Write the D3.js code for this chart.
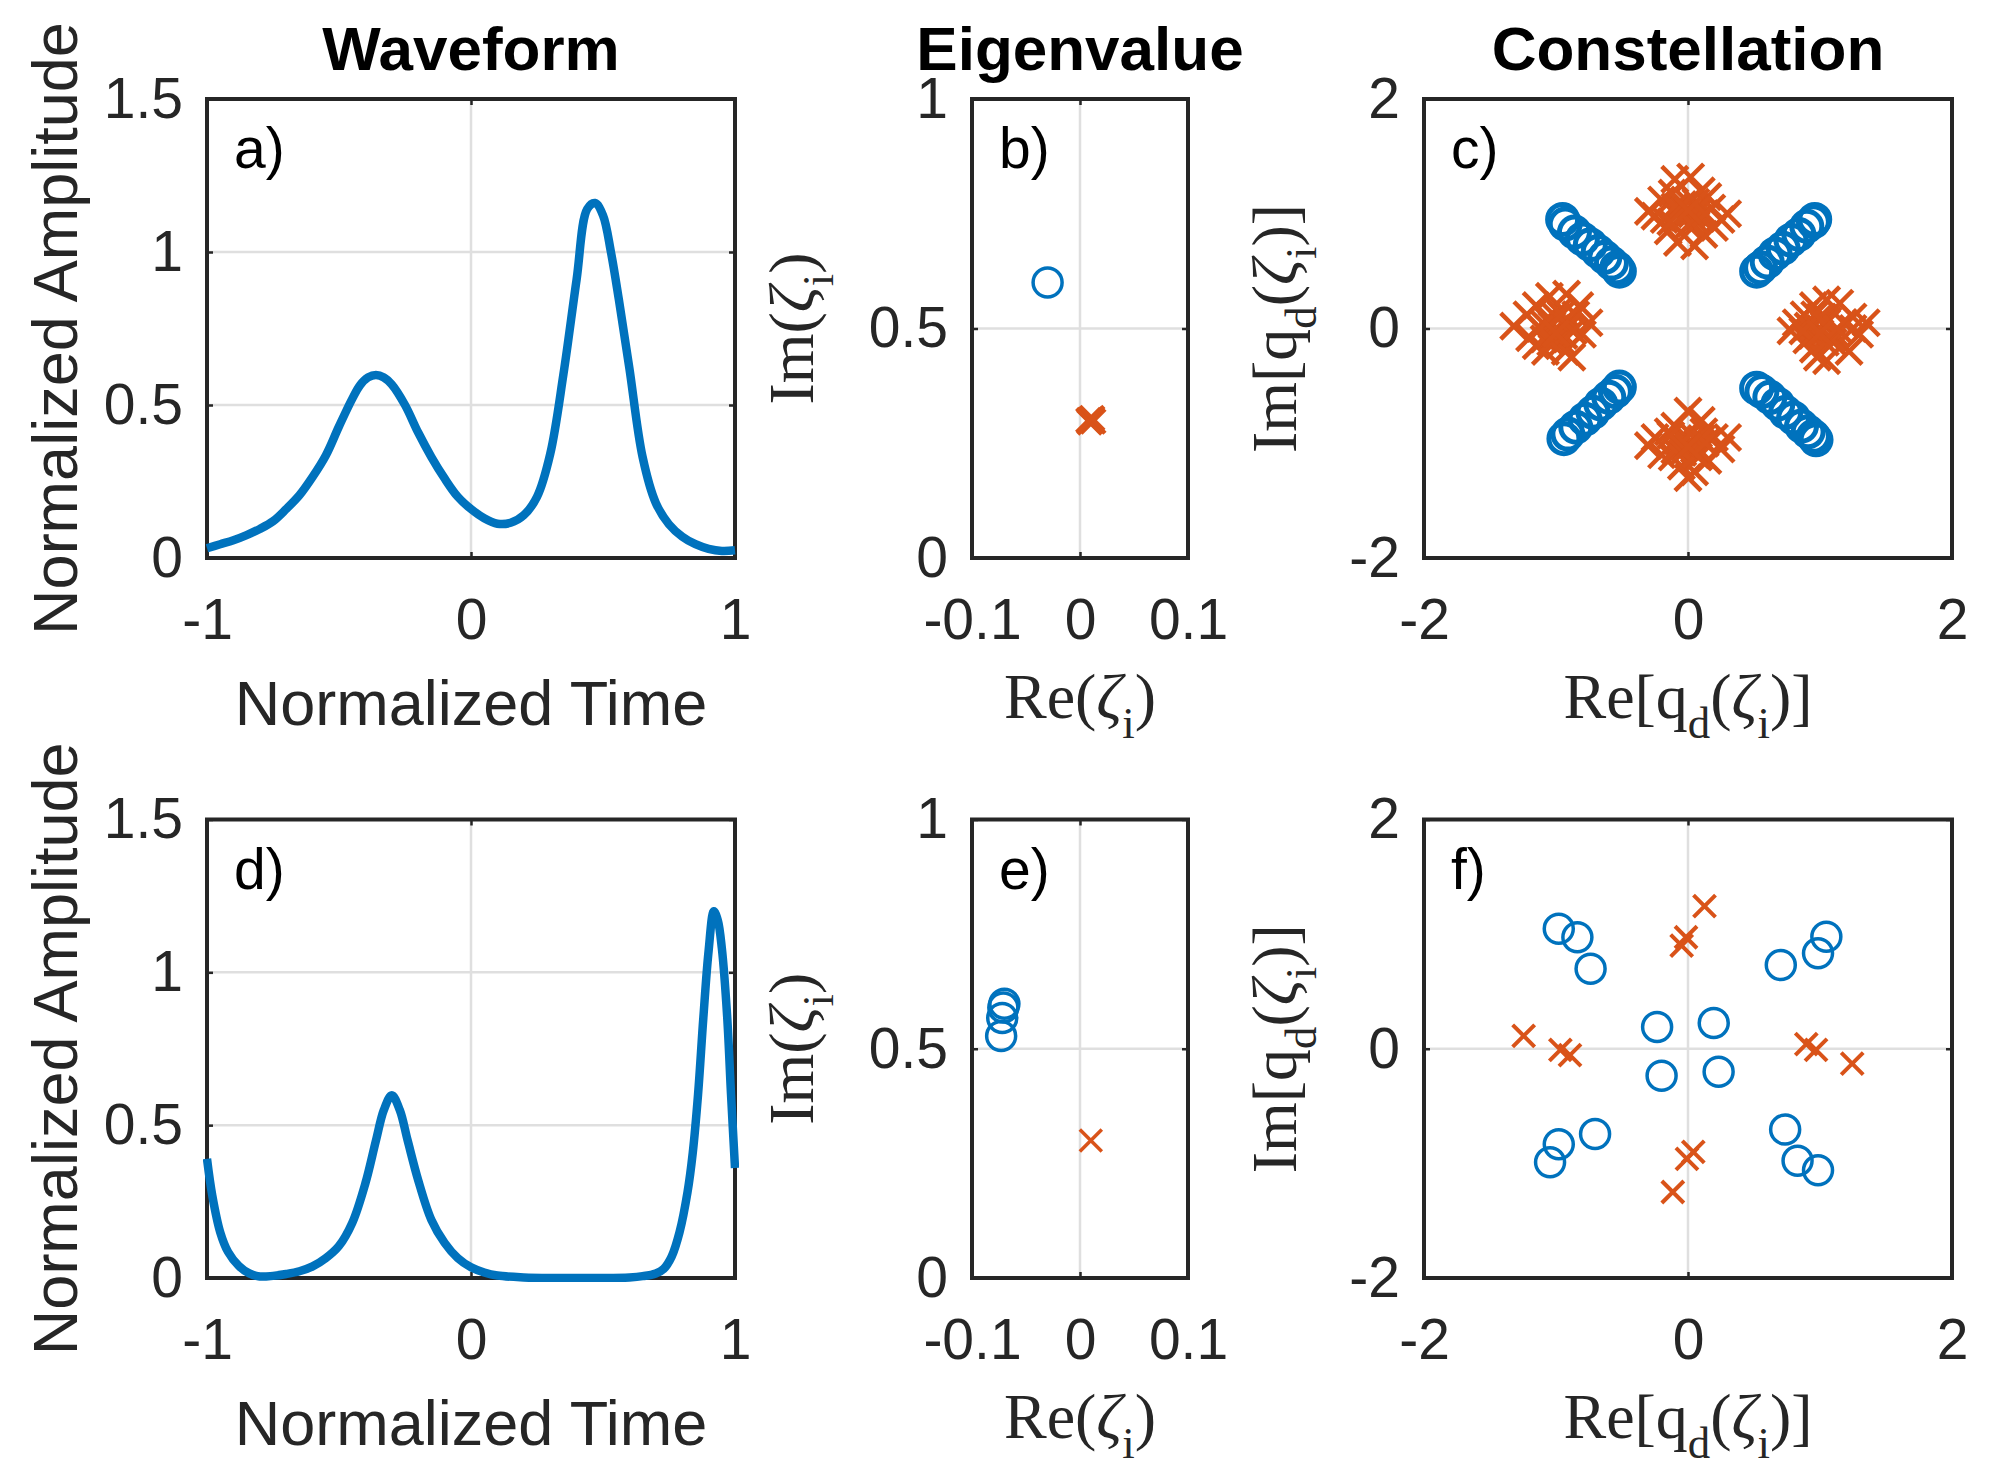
<!DOCTYPE html>
<html><head><meta charset="utf-8">
<script src="https://cdn.jsdelivr.net/npm/d3@7"></script>
<style>body{margin:0;background:#fff}</style>
</head><body>
<svg id="chart" width="2006" height="1478"></svg>
<script>
// ---------------- DATA ----------------
// Waveform a)
const waveA_t = [-1.0,-0.95,-0.9,-0.85,-0.8,-0.75,-0.7,-0.65,-0.6,-0.55,-0.5,-0.45,-0.42,-0.39,-0.36,-0.33,-0.3,-0.25,-0.2,-0.15,-0.1,-0.05,0,0.05,0.1,0.15,0.2,0.25,0.3,0.35,0.4,0.44,0.47,0.5,0.53,0.56,0.6,0.65,0.7,0.75,0.8,0.85,0.9,0.95,1.0];
const waveA_q = [0.032,0.045,0.058,0.075,0.095,0.12,0.16,0.205,0.265,0.335,0.43,0.52,0.565,0.59,0.598,0.59,0.567,0.5,0.41,0.33,0.26,0.2,0.16,0.13,0.112,0.115,0.14,0.2,0.34,0.6,0.91,1.14,1.16,1.12,1.0,0.845,0.62,0.33,0.18,0.11,0.07,0.045,0.03,0.023,0.025];
// Waveform d)
const waveD_t = [-1.0,-0.98,-0.95,-0.92,-0.88,-0.84,-0.8,-0.75,-0.7,-0.65,-0.6,-0.55,-0.5,-0.45,-0.4,-0.36,-0.33,-0.3,-0.27,-0.24,-0.2,-0.15,-0.1,-0.05,0,0.05,0.1,0.2,0.3,0.4,0.5,0.6,0.65,0.7,0.73,0.76,0.79,0.82,0.84,0.86,0.88,0.9,0.92,0.935,0.95,0.97,0.985,1.0];
const waveD_q = [0.39,0.27,0.15,0.085,0.04,0.015,0.005,0.007,0.013,0.022,0.038,0.065,0.105,0.18,0.31,0.45,0.55,0.598,0.55,0.45,0.32,0.19,0.115,0.065,0.035,0.018,0.008,0.002,0,0,0,0.002,0.006,0.015,0.03,0.07,0.15,0.28,0.41,0.6,0.85,1.07,1.2,1.17,1.08,0.86,0.6,0.36];

// Eigenvalues b)
const eigB_circRe = [-0.03];
const eigB_circIm = [0.6];
const eigB_crossRe = [0.008,0.010,0.012,0.009,0.011];
const eigB_crossIm = [0.300,0.302,0.298,0.296,0.304];
// Eigenvalues e)
const eigE_circRe = [-0.070,-0.071,-0.072,-0.073];
const eigE_circIm = [0.598,0.590,0.567,0.528];
const eigE_crossRe = [0.01];
const eigE_crossIm = [0.3];

// Constellation c)
const conC_circRe = [-0.95,-0.93,-0.86,-0.80,-0.74,-0.68,-0.63,-0.58,-0.54,-0.52,
                      0.52,0.55,0.60,0.66,0.72,0.78,0.84,0.90,0.95,0.96,
                     -0.94,-0.91,-0.85,-0.78,-0.72,-0.66,-0.60,-0.55,-0.52,
                      0.52,0.56,0.62,0.68,0.74,0.80,0.86,0.91,0.95,0.97];
const conC_circIm = [0.95,0.91,0.84,0.78,0.73,0.67,0.62,0.57,0.53,0.50,
                     0.50,0.53,0.58,0.65,0.70,0.77,0.82,0.89,0.93,0.95,
                    -0.96,-0.92,-0.86,-0.79,-0.73,-0.66,-0.60,-0.55,-0.51,
                    -0.52,-0.55,-0.60,-0.66,-0.73,-0.78,-0.85,-0.90,-0.94,-0.97];
const conC_crossRe = [-0.10,0.02,-0.20,0.15,-0.25,0.25,-0.05,0.08,0.00,-0.15,0.12,0.30,-0.30,0.05,-0.08,0.20,-0.18,0.10,0.00,0.18,-0.12,0.05,
                       0.03,-0.03,0.07,-0.07,0.10,-0.10,0.02,-0.04,0.06,0.13,-0.13,0.00,
                      -1.32,-1.20,-1.15,-1.05,-0.92,-0.85,-0.80,-0.75,-1.00,-1.10,-0.95,-1.08,-0.88,-0.98,-1.22,-0.90,-1.02,-1.15,-0.82,-0.93,
                      -1.03,-0.97,-1.06,-0.94,-1.00,-1.09,-0.91,-1.04,-0.96,-1.12,-0.87,-1.00,
                       1.35,1.25,1.30,1.15,1.05,0.95,0.82,0.78,0.90,1.00,1.10,1.22,1.05,0.95,1.18,0.88,1.02,1.12,0.98,1.25,
                       1.03,0.97,1.06,0.94,1.00,1.09,0.91,1.04,0.96,1.13,0.87,1.00,
                       0.00,0.05,-0.05,0.15,-0.20,0.20,-0.25,-0.10,0.10,0.00,0.00,0.05,-0.08,0.25,-0.15,0.12,-0.30,0.30,0.08,-0.12,
                       0.03,-0.03,0.07,-0.07,0.10,-0.10,0.02,-0.04,0.06,0.13,-0.13,0.00];
const conC_crossIm = [1.30,1.32,1.12,1.15,0.98,0.95,1.05,1.02,0.90,0.85,0.82,1.00,1.02,0.72,0.75,0.88,0.95,1.20,1.10,1.05,1.18,0.95,
                      1.00,0.97,1.04,1.02,0.96,1.06,0.92,1.08,1.10,1.00,0.93,1.03,
                      0.02,-0.08,0.20,0.28,0.30,0.12,-0.05,0.05,0.00,0.05,-0.12,-0.20,-0.25,0.15,0.12,0.02,-0.05,-0.15,0.20,-0.20,
                      0.03,-0.03,0.07,-0.06,0.10,-0.09,0.02,-0.12,0.12,0.00,-0.02,-0.04,
                      0.05,0.10,-0.05,0.22,0.25,0.20,0.05,-0.02,-0.10,0.00,-0.12,-0.20,-0.28,-0.18,0.05,0.12,0.10,-0.05,-0.25,0.00,
                      0.03,-0.03,0.07,-0.06,0.10,-0.09,0.02,-0.12,0.12,0.00,-0.02,-0.04,
                     -1.30,-1.25,-1.20,-1.15,-1.10,-0.95,-0.95,-0.85,-0.80,-0.72,-1.00,-1.05,-0.98,-1.05,-0.90,-0.90,-1.02,-0.95,-1.12,-1.12,
                     -1.00,-0.97,-1.04,-1.02,-0.96,-1.06,-0.92,-1.08,-1.10,-1.00,-0.93,-1.03];
// Constellation f)
const conF_circRe = [-0.979,-0.838,-0.738,0.703,0.985,1.048,-0.234,0.195,-0.200,0.232,-0.704,-0.979,-1.045,0.736,0.830,0.985];
const conF_circIm = [1.047,0.973,0.698,0.731,0.834,0.978,0.190,0.225,-0.236,-0.200,-0.743,-0.833,-0.990,-0.705,-0.978,-1.060];
const conF_crossRe = [0.125,-0.015,-0.048,-1.245,-0.967,-0.894,0.896,0.970,1.244,0.040,-0.008,-0.115];
const conF_crossIm = [1.245,0.973,0.900,0.113,-0.010,-0.055,0.040,-0.010,-0.130,-0.900,-0.960,-1.250];

// Ticks
const waveXTicks = [-1,0,1], waveXLabels = ["-1","0","1"];
const waveYTicks = [0,0.5,1,1.5], waveYLabels = ["0","0.5","1","1.5"];
const eigXTicks = [-0.1,0,0.1], eigXLabels = ["-0.1","0","0.1"];
const eigYTicks = [0,0.5,1], eigYLabels = ["0","0.5","1"];
const conTicks = [-2,0,2], conLabels = ["-2","0","2"];
const titles = ["Waveform","Eigenvalue","Constellation"];
const panelLetters = ["a)","b)","c)","d)","e)","f)"];

// ---------------- STYLE ----------------
const SANS = "'Liberation Sans', Arial, Helvetica, sans-serif";
const SERIF = "'Liberation Serif', 'Times New Roman', Times, serif";
const DARK = "#262626", GRID = "#dfdfdf", BLUE = "#0072BD", ORANGE = "#D95319";
const TICK_FONT = 57, LABEL_FONT = 63, TITLE_FONT = 62, SERIF_FONT = 64;

const cols = [{left:207,right:735},{left:972,right:1188},{left:1424,right:1952}];
const rows = [{top:99,bottom:558},{top:819.5,bottom:1278}];

const svg = d3.select("#chart");
svg.append("rect").attr("width",2006).attr("height",1478).attr("fill","#fff");

function serifText(parent, parts, x, y, rotate) {
  const t = parent.append("text")
    .attr("font-family", SERIF).attr("font-size", SERIF_FONT).attr("fill", DARK)
    .attr("text-anchor","middle")
    .attr("transform", `translate(${x},${y})` + (rotate ? " rotate(-90)" : ""));
  let shifted = 0;
  parts.forEach(p => {
    const ts = t.append("tspan").text(p.t);
    const target = p.sub ? SERIF_FONT*0.32 : 0;
    ts.attr("dy", target - shifted);
    shifted = target;
    if (p.sub) ts.attr("font-size", SERIF_FONT*0.7);
    if (p.it) ts.attr("font-style","italic");
  });
  return t;
}

let clipN = 0;
function panel(o) {
  const g = svg.append("g");
  const x = d3.scaleLinear().domain(o.xDomain).range([o.left, o.right]);
  const y = d3.scaleLinear().domain(o.yDomain).range([o.bottom, o.top]);
  // grid
  g.append("g").selectAll("line").data(o.xTicks).join("line")
    .attr("x1", d=>x(d)).attr("x2", d=>x(d)).attr("y1", o.top).attr("y2", o.bottom)
    .attr("stroke", GRID).attr("stroke-width", 2.5);
  g.append("g").selectAll("line").data(o.yTicks).join("line")
    .attr("y1", d=>y(d)).attr("y2", d=>y(d)).attr("x1", o.left).attr("x2", o.right)
    .attr("stroke", GRID).attr("stroke-width", 2.5);
  // axes (ticks inside)
  const fmtX = d => o.xLabels[o.xTicks.indexOf(d)];
  const fmtY = d => o.yLabels[o.yTicks.indexOf(d)];
  const axes = [
    g.append("g").attr("transform", `translate(0,${o.bottom})`)
      .call(d3.axisBottom(x).tickValues(o.xTicks).tickFormat(fmtX).tickSizeInner(-6).tickSizeOuter(0).tickPadding(41)),
    g.append("g").attr("transform", `translate(0,${o.top})`)
      .call(d3.axisTop(x).tickValues(o.xTicks).tickFormat("").tickSizeInner(-6).tickSizeOuter(0)),
    g.append("g").attr("transform", `translate(${o.left},0)`)
      .call(d3.axisLeft(y).tickValues(o.yTicks).tickFormat(fmtY).tickSizeInner(-6).tickSizeOuter(0).tickPadding(24)),
    g.append("g").attr("transform", `translate(${o.right},0)`)
      .call(d3.axisRight(y).tickValues(o.yTicks).tickFormat("").tickSizeInner(-6).tickSizeOuter(0))
  ];
  axes.forEach(a => {
    a.select(".domain").remove();
    a.selectAll(".tick line").attr("stroke", DARK).attr("stroke-width", 2.5);
    a.selectAll(".tick text").attr("fill", DARK).attr("font-family", SANS).attr("font-size", TICK_FONT);
  });
  // box
  g.append("rect").attr("x", o.left).attr("y", o.top)
    .attr("width", o.right-o.left).attr("height", o.bottom-o.top)
    .attr("fill","none").attr("stroke", DARK).attr("stroke-width", 4);
  // data
  const id = "clip" + (clipN++);
  svg.append("clipPath").attr("id", id).append("rect")
    .attr("x", o.left-4).attr("y", o.top-4).attr("width", o.right-o.left+8).attr("height", o.bottom-o.top+8);
  const dg = g.append("g").attr("clip-path", `url(#${id})`);
  o.draw(dg, x, y);
  // panel letter
  g.append("text").attr("x", o.left+27).attr("y", o.top+69)
    .attr("font-family", SANS).attr("font-size", TICK_FONT).attr("fill","#000").text(o.letter);
  return g;
}

function drawCircles(g, x, y, re, im, r, sw) {
  g.append("g").selectAll("circle").data(re.map((d,i)=>[d, im[i]])).join("circle")
    .attr("cx", d=>x(d[0])).attr("cy", d=>y(d[1])).attr("r", r)
    .attr("fill","none").attr("stroke", BLUE).attr("stroke-width", sw);
}
function drawCrosses(g, x, y, re, im, h, sw) {
  g.append("g").selectAll("path").data(re.map((d,i)=>[d, im[i]])).join("path")
    .attr("d", d => {
      const cx = x(d[0]), cy = y(d[1]);
      return `M${cx-h},${cy-h}L${cx+h},${cy+h}M${cx-h},${cy+h}L${cx+h},${cy-h}`;
    })
    .attr("fill","none").attr("stroke", ORANGE).attr("stroke-width", sw);
}
function drawWave(g, x, y, t, q) {
  const line = d3.line().x(d=>x(d[0])).y(d=>y(d[1])).curve(d3.curveCatmullRom.alpha(0.5));
  g.append("path").attr("d", line(t.map((d,i)=>[d, q[i]])))
    .attr("fill","none").attr("stroke", BLUE).attr("stroke-width", 8.5)
    .attr("stroke-linejoin","round");
}

const waveDatasets = [[waveA_t, waveA_q],[waveD_t, waveD_q]];
const eigDatasets = [
  {cr:eigB_circRe, ci:eigB_circIm, xr:eigB_crossRe, xi:eigB_crossIm, xh:12, xsw:4.5},
  {cr:eigE_circRe, ci:eigE_circIm, xr:eigE_crossRe, xi:eigE_crossIm, xh:11, xsw:3.5}
];
const conDatasets = [
  {cr:conC_circRe, ci:conC_circIm, xr:conC_crossRe, xi:conC_crossIm, r:15, csw:5, xh:13, xsw:4.5},
  {cr:conF_circRe, ci:conF_circIm, xr:conF_crossRe, xi:conF_crossIm, r:14.5, csw:3.5, xh:11, xsw:4}
];

rows.forEach((row, ri) => {
  // Waveform
  panel({left:cols[0].left, right:cols[0].right, top:row.top, bottom:row.bottom,
    xDomain:[-1,1], yDomain:[0,1.5], xTicks:waveXTicks, xLabels:waveXLabels,
    yTicks:waveYTicks, yLabels:waveYLabels, letter:panelLetters[ri*3],
    draw:(g,x,y)=>drawWave(g,x,y,waveDatasets[ri][0],waveDatasets[ri][1])});
  // Eigenvalue
  panel({left:cols[1].left, right:cols[1].right, top:row.top, bottom:row.bottom,
    xDomain:[-0.1,0.1], yDomain:[0,1], xTicks:eigXTicks, xLabels:eigXLabels,
    yTicks:eigYTicks, yLabels:eigYLabels, letter:panelLetters[ri*3+1],
    draw:(g,x,y)=>{ const d = eigDatasets[ri];
      drawCircles(g,x,y,d.cr,d.ci,14.5,3.5);
      drawCrosses(g,x,y,d.xr,d.xi,d.xh,d.xsw); }});
  // Constellation
  panel({left:cols[2].left, right:cols[2].right, top:row.top, bottom:row.bottom,
    xDomain:[-2,2], yDomain:[-2,2], xTicks:conTicks, xLabels:conLabels,
    yTicks:conTicks, yLabels:conLabels, letter:panelLetters[ri*3+2],
    draw:(g,x,y)=>{ const d = conDatasets[ri];
      drawCircles(g,x,y,d.cr,d.ci,d.r,d.csw);
      drawCrosses(g,x,y,d.xr,d.xi,d.xh,d.xsw); }});

  // axis labels
  const midY = (row.top + row.bottom)/2;
  svg.append("text").attr("x", (cols[0].left+cols[0].right)/2).attr("y", row.bottom+167)
    .attr("text-anchor","middle").attr("font-family",SANS).attr("font-size",LABEL_FONT).attr("fill",DARK)
    .text("Normalized Time");
  svg.append("text").attr("transform", `translate(${cols[0].left-130},${midY}) rotate(-90)`)
    .attr("text-anchor","middle").attr("font-family",SANS).attr("font-size",LABEL_FONT).attr("fill",DARK)
    .text("Normalized Amplitude");
  serifText(svg, [{t:"Re("},{t:"ζ",it:true},{t:"i",sub:true},{t:")"}], (cols[1].left+cols[1].right)/2, row.bottom+160, false);
  serifText(svg, [{t:"Im("},{t:"ζ",it:true},{t:"i",sub:true},{t:")"}], cols[1].left-159, midY, true);
  serifText(svg, [{t:"Re[q"},{t:"d",sub:true},{t:"("},{t:"ζ",it:true},{t:"i",sub:true},{t:")]"}], (cols[2].left+cols[2].right)/2, row.bottom+160, false);
  serifText(svg, [{t:"Im[q"},{t:"d",sub:true},{t:"("},{t:"ζ",it:true},{t:"i",sub:true},{t:")]"}], cols[2].left-128, midY, true);
});

// titles
cols.forEach((c, i) => {
  svg.append("text").attr("x", (c.left+c.right)/2).attr("y", 70)
    .attr("text-anchor","middle").attr("font-family",SANS).attr("font-weight","bold")
    .attr("font-size",TITLE_FONT).attr("fill","#000").text(titles[i]);
});
</script>
</body></html>
